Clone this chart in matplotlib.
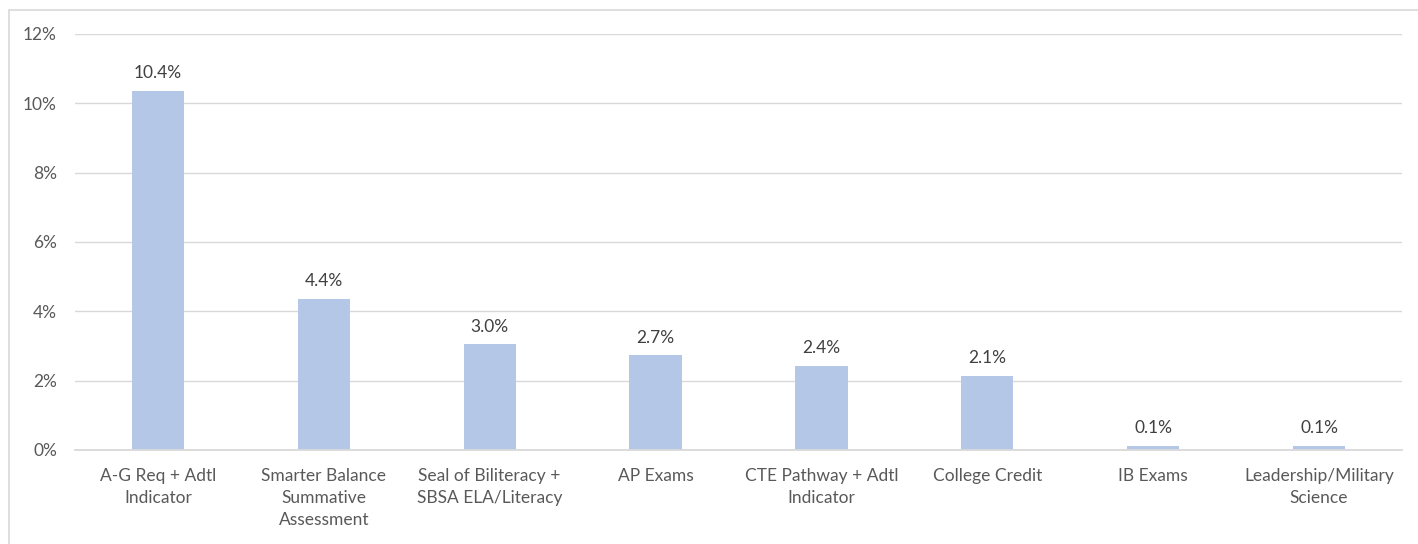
import matplotlib.pyplot as plt
from matplotlib.patches import Rectangle
from matplotlib.ticker import FuncFormatter

categories = ["A-G Req + Adtl\nIndicator", "Smarter Balance\nSummative\nAssessment",
              "Seal of Biliteracy +\nSBSA ELA/Literacy", "AP Exams",
              "CTE Pathway + Adtl\nIndicator", "College Credit", "IB Exams",
              "Leadership/Military\nScience"]
values = [10.37, 4.36, 3.05, 2.73, 2.42, 2.13, 0.12, 0.12]

plt.rcParams['font.family'] = ['Lato', 'DejaVu Sans']

W, H = 1418, 544
fig = plt.figure(figsize=(W / 100, H / 100), dpi=100)
ax = fig.add_axes([75 / W, 1 - 450 / H, (1402 - 75) / W, (450 - 34) / H])

# chart border (only left and top edges visible in the crop)
fig.patches.append(Rectangle((9 / W, -0.1), 2, 1 - 10 / H + 0.1, transform=fig.transFigure,
                             fill=False, edgecolor='#D9D9D9', linewidth=1.2))

x = range(len(values))
ax.bar(x, values, width=0.315, color='#B4C7E7', zorder=3)
for i, v in zip(x, values):
    ax.annotate(f"{v:.1f}%", (i, v), xytext=(0, 7), textcoords='offset points',
                ha='center', va='bottom', fontsize=12.5, color='#404040')

ax.set_xlim(-0.5, len(values) - 0.5)
ax.set_ylim(0, 12)
ax.set_yticks(range(0, 13, 2))
ax.yaxis.set_major_formatter(FuncFormatter(lambda v, p: f"{v:.0f}%"))
ax.set_xticks(list(x))
ax.set_xticklabels(categories, fontsize=12.5, color='#595959', linespacing=1.45)
ax.tick_params(axis='y', labelsize=12.5, labelcolor='#595959', length=0, pad=13)
ax.tick_params(axis='x', length=0, pad=13)
ax.grid(axis='y', color='#D9D9D9', linewidth=1.0, zorder=0)
for s in ['top', 'right', 'left']:
    ax.spines[s].set_visible(False)
ax.spines['bottom'].set_color('#D9D9D9')
ax.spines['bottom'].set_linewidth(1.3)
ax.spines['bottom'].set_zorder(4)

fig.savefig('out.png', dpi=100)
